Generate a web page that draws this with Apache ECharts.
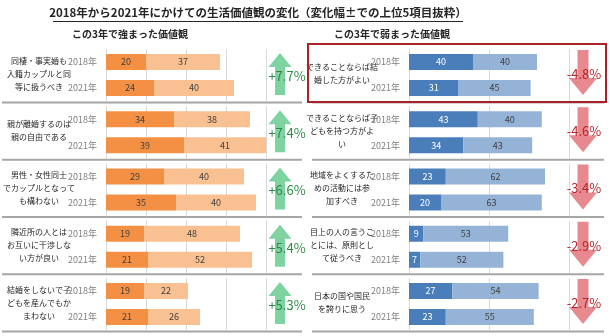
<!DOCTYPE html>
<html>
<head>
<meta charset="utf-8">
<script src="https://cdn.jsdelivr.net/npm/echarts@6/dist/echarts.min.js"></script>
<style>
  html, body { margin: 0; padding: 0; background: #fff; }
  #chart { width: 610px; height: 336px; }
</style>
</head>
<body>
<div id="chart"></div>
<script>
// 年
const years = ['2018年', '2021年'];

// 強まった価値観
const leftItems = [
  '同棲・事実婚も\n入籍カップルと同\n等に扱うべき',
  '親が離婚するのは\n親の自由である',
  '男性・女性同士\nでカップルとなって\nも構わない',
  '隣近所の人とは\nお互いに干渉しな\nい方が良い',
  '結婚をしないで子\nどもを産んでもか\nまわない'
];
const leftDark2018 = [20, 34, 29, 19, 19];
const leftLight2018 = [37, 38, 40, 48, 22];
const leftDark2021 = [24, 39, 35, 21, 21];
const leftLight2021 = [40, 41, 40, 52, 26];
const leftChange = [7.7, 7.4, 6.6, 5.4, 5.3];

// 弱まった価値観
const rightItems = [
  'できることならば結\n婚した方がよい',
  'できることならば子\nどもを持つ方がよ\nい',
  '地域をよくするた\nめの活動には参\n加すべき',
  '目上の人の言うこ\nとには、原則とし\nて従うべき',
  '日本の国や国民\nを誇りに思う'
];
const rightDark2018 = [40, 43, 23, 9, 27];
const rightLight2018 = [40, 40, 62, 53, 54];
const rightDark2021 = [31, 34, 20, 7, 23];
const rightLight2021 = [45, 43, 63, 52, 55];
const rightChange = [-4.8, -4.6, -3.4, -2.9, -2.7];

const FONT = '"Noto Sans CJK JP", "Noto Sans", sans-serif';
const upArrow = 'path://M11.5,0 L23,14 L16.5,14 L16.5,42 L6.5,42 L6.5,14 L0,14 Z';
const downArrow = 'path://M8.5,0 L19.5,0 L19.5,28 L28,28 L14,45 L0,28 L8.5,28 Z';

const groupTop = i => 49 + i * 57.25;
const grids = [], xAxes = [], yAxes = [], series = [], graphics = [];

function addPanel(items, d18, l18, d21, l21, change, opt) {
  items.forEach((name, i) => {
    const gi = grids.length;
    grids.push({ left: opt.left, width: opt.width, top: groupTop(i), height: 52 });
    xAxes.push({
      gridIndex: gi, type: 'value', min: 0, max: opt.max, interval: opt.interval,
      axisLabel: { show: false }, axisLine: { show: false }, axisTick: { show: false },
      splitLine: { lineStyle: { color: '#d9d9d9', width: 1 } }
    });
    yAxes.push({
      gridIndex: gi, type: 'category', data: years, inverse: true,
      axisLine: { show: false }, axisTick: { show: false },
      axisLabel: { color: '#7f7f7f', fontSize: 9, margin: 9, fontFamily: FONT }
    });
    series.push({
      type: 'bar', xAxisIndex: gi, yAxisIndex: gi, stack: 's' + gi, barWidth: 16,
      data: [d18[i], d21[i]], itemStyle: { color: opt.dark },
      label: { show: true, color: opt.darkLabel, fontSize: 9, fontFamily: FONT }
    });
    series.push({
      type: 'bar', xAxisIndex: gi, yAxisIndex: gi, stack: 's' + gi, barWidth: 16,
      data: [l18[i], l21[i]], itemStyle: { color: opt.light },
      label: { show: true, color: '#404040', fontSize: 9, fontFamily: FONT }
    });
    graphics.push({
      type: 'text', x: opt.labelX, y: groupTop(i) + 24.5,
      style: {
        text: name, fill: '#262626', font: '8px ' + FONT, lineHeight: 13,
        textAlign: 'center', textVerticalAlign: 'middle'
      }
    });
    graphics.push({
      type: 'line',
      shape: { x1: opt.sepX1, y1: groupTop(i) + 53.5, x2: opt.sepX2, y2: groupTop(i) + 53.5 },
      style: { stroke: '#a6a6a6', lineWidth: 2 }
    });
  });

  // 変化幅の矢印
  const ai = grids.length;
  grids.push({ left: opt.arrowLeft, width: 36, top: groupTop(0) + 26 - 28.625, height: 57.25 * 5 });
  xAxes.push({ gridIndex: ai, type: 'category', data: ['変化'], show: false });
  yAxes.push({ gridIndex: ai, type: 'category', data: items, inverse: true, show: false });
  series.push({
    type: 'scatter', xAxisIndex: ai, yAxisIndex: ai,
    data: change.map((v, i) => ({
      value: [0, i, v],
      symbol: v > 0 ? upArrow : downArrow,
      symbolSize: v > 0 ? [23, 42] : [28, 45],
      symbolOffset: v > 0 ? [0, -1] : [0, -2.5]
    })),
    itemStyle: { color: opt.arrowColor, opacity: 1 },
    label: {
      show: true, position: 'inside', offset: opt.textOffset,
      color: opt.textColor, fontSize: 13, fontFamily: FONT,
      formatter: p => (p.value[2] > 0 ? '+' : '') + p.value[2].toFixed(1) + '%'
    }
  });
}

addPanel(leftItems, leftDark2018, leftLight2018, leftDark2021, leftLight2021, leftChange, {
  left: 106, width: 160, max: 80, interval: 20,
  dark: '#F39043', light: '#F9C191', darkLabel: '#404040',
  labelX: 39, sepX1: 2, sepX2: 302,
  arrowLeft: 262, arrowColor: '#7FD3A1', textColor: '#2E8B46', textOffset: [7, 2]
});
addPanel(rightItems, rightDark2018, rightLight2018, rightDark2021, rightLight2021, rightChange, {
  left: 409, width: 160, max: 100, interval: 50,
  dark: '#4A7EBB', light: '#95B3D7', darkLabel: '#ffffff',
  labelX: 342, sepX1: 312, sepX2: 604,
  arrowLeft: 565, arrowColor: '#E8898F', textColor: '#B8262C', textOffset: [1, 1.5]
});

// タイトル
graphics.push({
  type: 'text', x: 258, y: 13,
  style: {
    text: '2018年から2021年にかけての生活価値観の変化（変化幅±での上位5項目抜粋）',
    fill: '#262626', font: 'bold 11.5px ' + FONT, textAlign: 'center', textVerticalAlign: 'middle'
  }
});
graphics.push({
  type: 'line', shape: { x1: 53, y1: 21.5, x2: 463, y2: 21.5 },
  style: { stroke: '#262626', lineWidth: 1 }
});
graphics.push({
  type: 'text', x: 130, y: 34,
  style: { text: 'この3年で強まった価値観', fill: '#262626', font: 'bold 10px ' + FONT, textAlign: 'center', textVerticalAlign: 'middle' }
});
graphics.push({
  type: 'text', x: 392, y: 34,
  style: { text: 'この3年で弱まった価値観', fill: '#262626', font: 'bold 10px ' + FONT, textAlign: 'center', textVerticalAlign: 'middle' }
});
// 赤枠
graphics.push({
  type: 'rect', z: 100, shape: { x: 308, y: 44, width: 298, height: 58 },
  style: { fill: 'none', stroke: '#B0202A', lineWidth: 2 }
});

const chart = echarts.init(document.getElementById('chart'));
chart.setOption({
  animation: false,
  textStyle: { fontFamily: FONT },
  grid: grids,
  xAxis: xAxes,
  yAxis: yAxes,
  series: series,
  graphic: graphics
});
</script>
</body>
</html>
